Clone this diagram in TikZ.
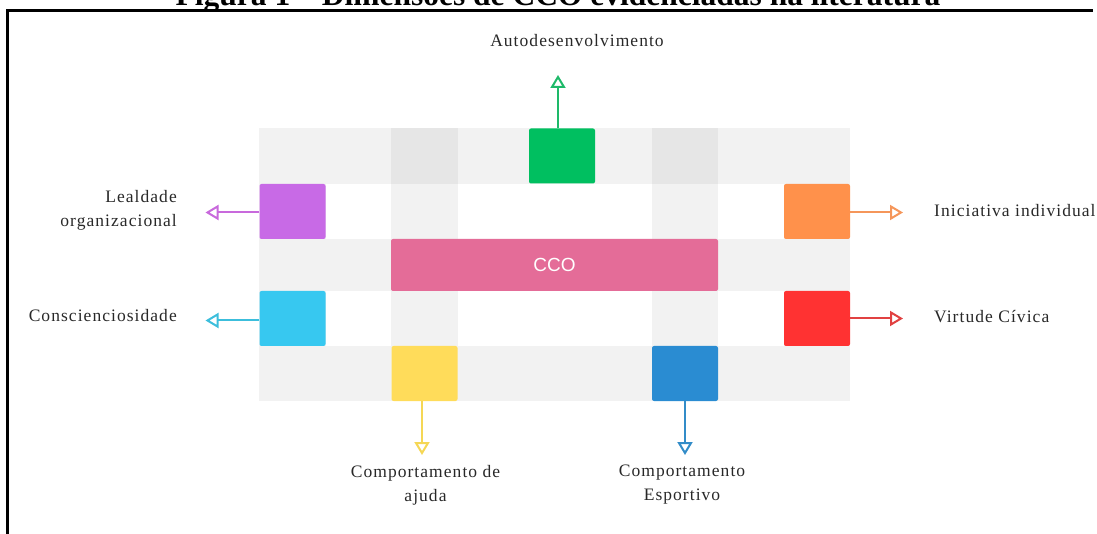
\documentclass[tikz,border=0pt]{standalone}
\usepackage{fontspec}
\setmainfont{Liberation Serif}
\newfontfamily\lblfont[LetterSpace=6]{Liberation Serif}
\newfontfamily\ccofont{Liberation Sans}
\usetikzlibrary{arrows.meta}

\definecolor{bggray}{RGB}{242,242,242}
\definecolor{dkgray}{RGB}{230,230,230}
\definecolor{labelgray}{RGB}{40,40,40}
\definecolor{cGreen}{RGB}{0,191,96}
\definecolor{cPurple}{RGB}{200,106,230}
\definecolor{cOrange}{RGB}{255,145,75}
\definecolor{cCyan}{RGB}{55,200,240}
\definecolor{cRed}{RGB}{255,50,50}
\definecolor{cYellow}{RGB}{255,220,90}
\definecolor{cBlue}{RGB}{42,140,210}
\definecolor{cPink}{RGB}{228,108,152}
\definecolor{aGreen}{RGB}{30,185,105}
\definecolor{aPurple}{RGB}{200,105,220}
\definecolor{aOrange}{RGB}{245,150,90}
\definecolor{aCyan}{RGB}{60,190,220}
\definecolor{aRed}{RGB}{225,65,65}
\definecolor{aYellow}{RGB}{245,215,85}
\definecolor{aBlue}{RGB}{50,140,200}

\tikzset{
  sq/.style={rectangle, rounded corners=2pt, inner sep=0pt, minimum width=66pt, minimum height=55pt, draw=none},
  lbl/.style={font=\lblfont\fontsize{17.5}{24}\selectfont, text=labelgray, inner sep=0pt},
  arr/.style={line width=2pt, -{Triangle[open, length=13pt, width=15pt]}},
}

\begin{document}
\begin{tikzpicture}[x=1pt,y=-1pt]
\useasboundingbox (0,0) rectangle (1097,534);

% title (cut off at top) and frame
\node[font=\bfseries\fontsize{31.5}{34}\selectfont, anchor=base, inner sep=0pt] (title) at (558,6) {Figura 1 -- Dimensões de CCO evidenciadas na literatura};
\draw[line width=3pt] (7.5,534) -- (7.5,10.5) -- (1093,10.5);

% grid background
\fill[bggray] (259,128) rectangle (850,401);
\fill[dkgray] (391,128) rectangle (458,184);
\fill[dkgray] (652,128) rectangle (718,184);
\fill[white] (326,184) rectangle (391,239);
\fill[white] (458,184) rectangle (652,239);
\fill[white] (718,184) rectangle (784,239);
\fill[white] (326,291) rectangle (391,346);
\fill[white] (458,291) rectangle (652,346);
\fill[white] (718,291) rectangle (784,346);

% squares
\node[sq, fill=cGreen]  (green)  at (562,156) {};
\node[sq, fill=cPurple] (purple) at (292.5,211.5) {};
\node[sq, fill=cOrange] (orange) at (817,211.5) {};
\node[sq, fill=cCyan]   (cyan)   at (292.5,318.5) {};
\node[sq, fill=cRed]    (red)    at (817,318.5) {};
\node[sq, fill=cYellow] (yellow) at (424.5,373.5) {};
\node[sq, fill=cBlue]   (blue)   at (685,373.5) {};
\node[sq, fill=cPink, minimum width=327pt, minimum height=52pt, text=white, font=\ccofont\fontsize{19}{22}\selectfont] (cco) at (554.5,265) {CCO};

% labels
\node[lbl, anchor=base] (lAuto) at (577,46.5) {Autodesenvolvimento};
\node[lbl, anchor=east, align=right] (lLeal) at (177,210) {Lealdade\\organizacional};
\node[lbl, anchor=base east] (lCons) at (177,322) {Conscienciosidade};
\node[lbl, anchor=base west] (lInic) at (934,217) {Iniciativa individual};
\node[lbl, anchor=base west] (lVirt) at (934,323) {Virtude Cívica};
\node[lbl, anchor=north, align=center] (lAjud) at (425.5,465) {Comportamento de\\ajuda};
\node[lbl, anchor=north, align=center] (lEsp) at (682,465) {Comportamento\\Esportivo};

% arrow tips
\coordinate (tGreen) at (558,75);
\coordinate (tPurple) at (205.5,212.5);
\coordinate (tCyan) at (205.5,320.5);
\coordinate (tOrange) at (903,212.5);
\coordinate (tRed) at (903,318.5);
\coordinate (tYellow) at (422,455);
\coordinate (tBlue) at (685,455);

% connectors
\draw[arr, aGreen]  (tGreen |- green.north) -- (tGreen);
\draw[arr, aPurple] (purple.west |- tPurple) -- (tPurple);
\draw[arr, aCyan]   (cyan.west |- tCyan) -- (tCyan);
\draw[arr, aOrange] (orange.east |- tOrange) -- (tOrange);
\draw[arr, aRed]    (red.east |- tRed) -- (tRed);
\draw[arr, aYellow] (tYellow |- yellow.south) -- (tYellow);
\draw[arr, aBlue]   (tBlue |- blue.south) -- (tBlue);
\end{tikzpicture}
\end{document}
